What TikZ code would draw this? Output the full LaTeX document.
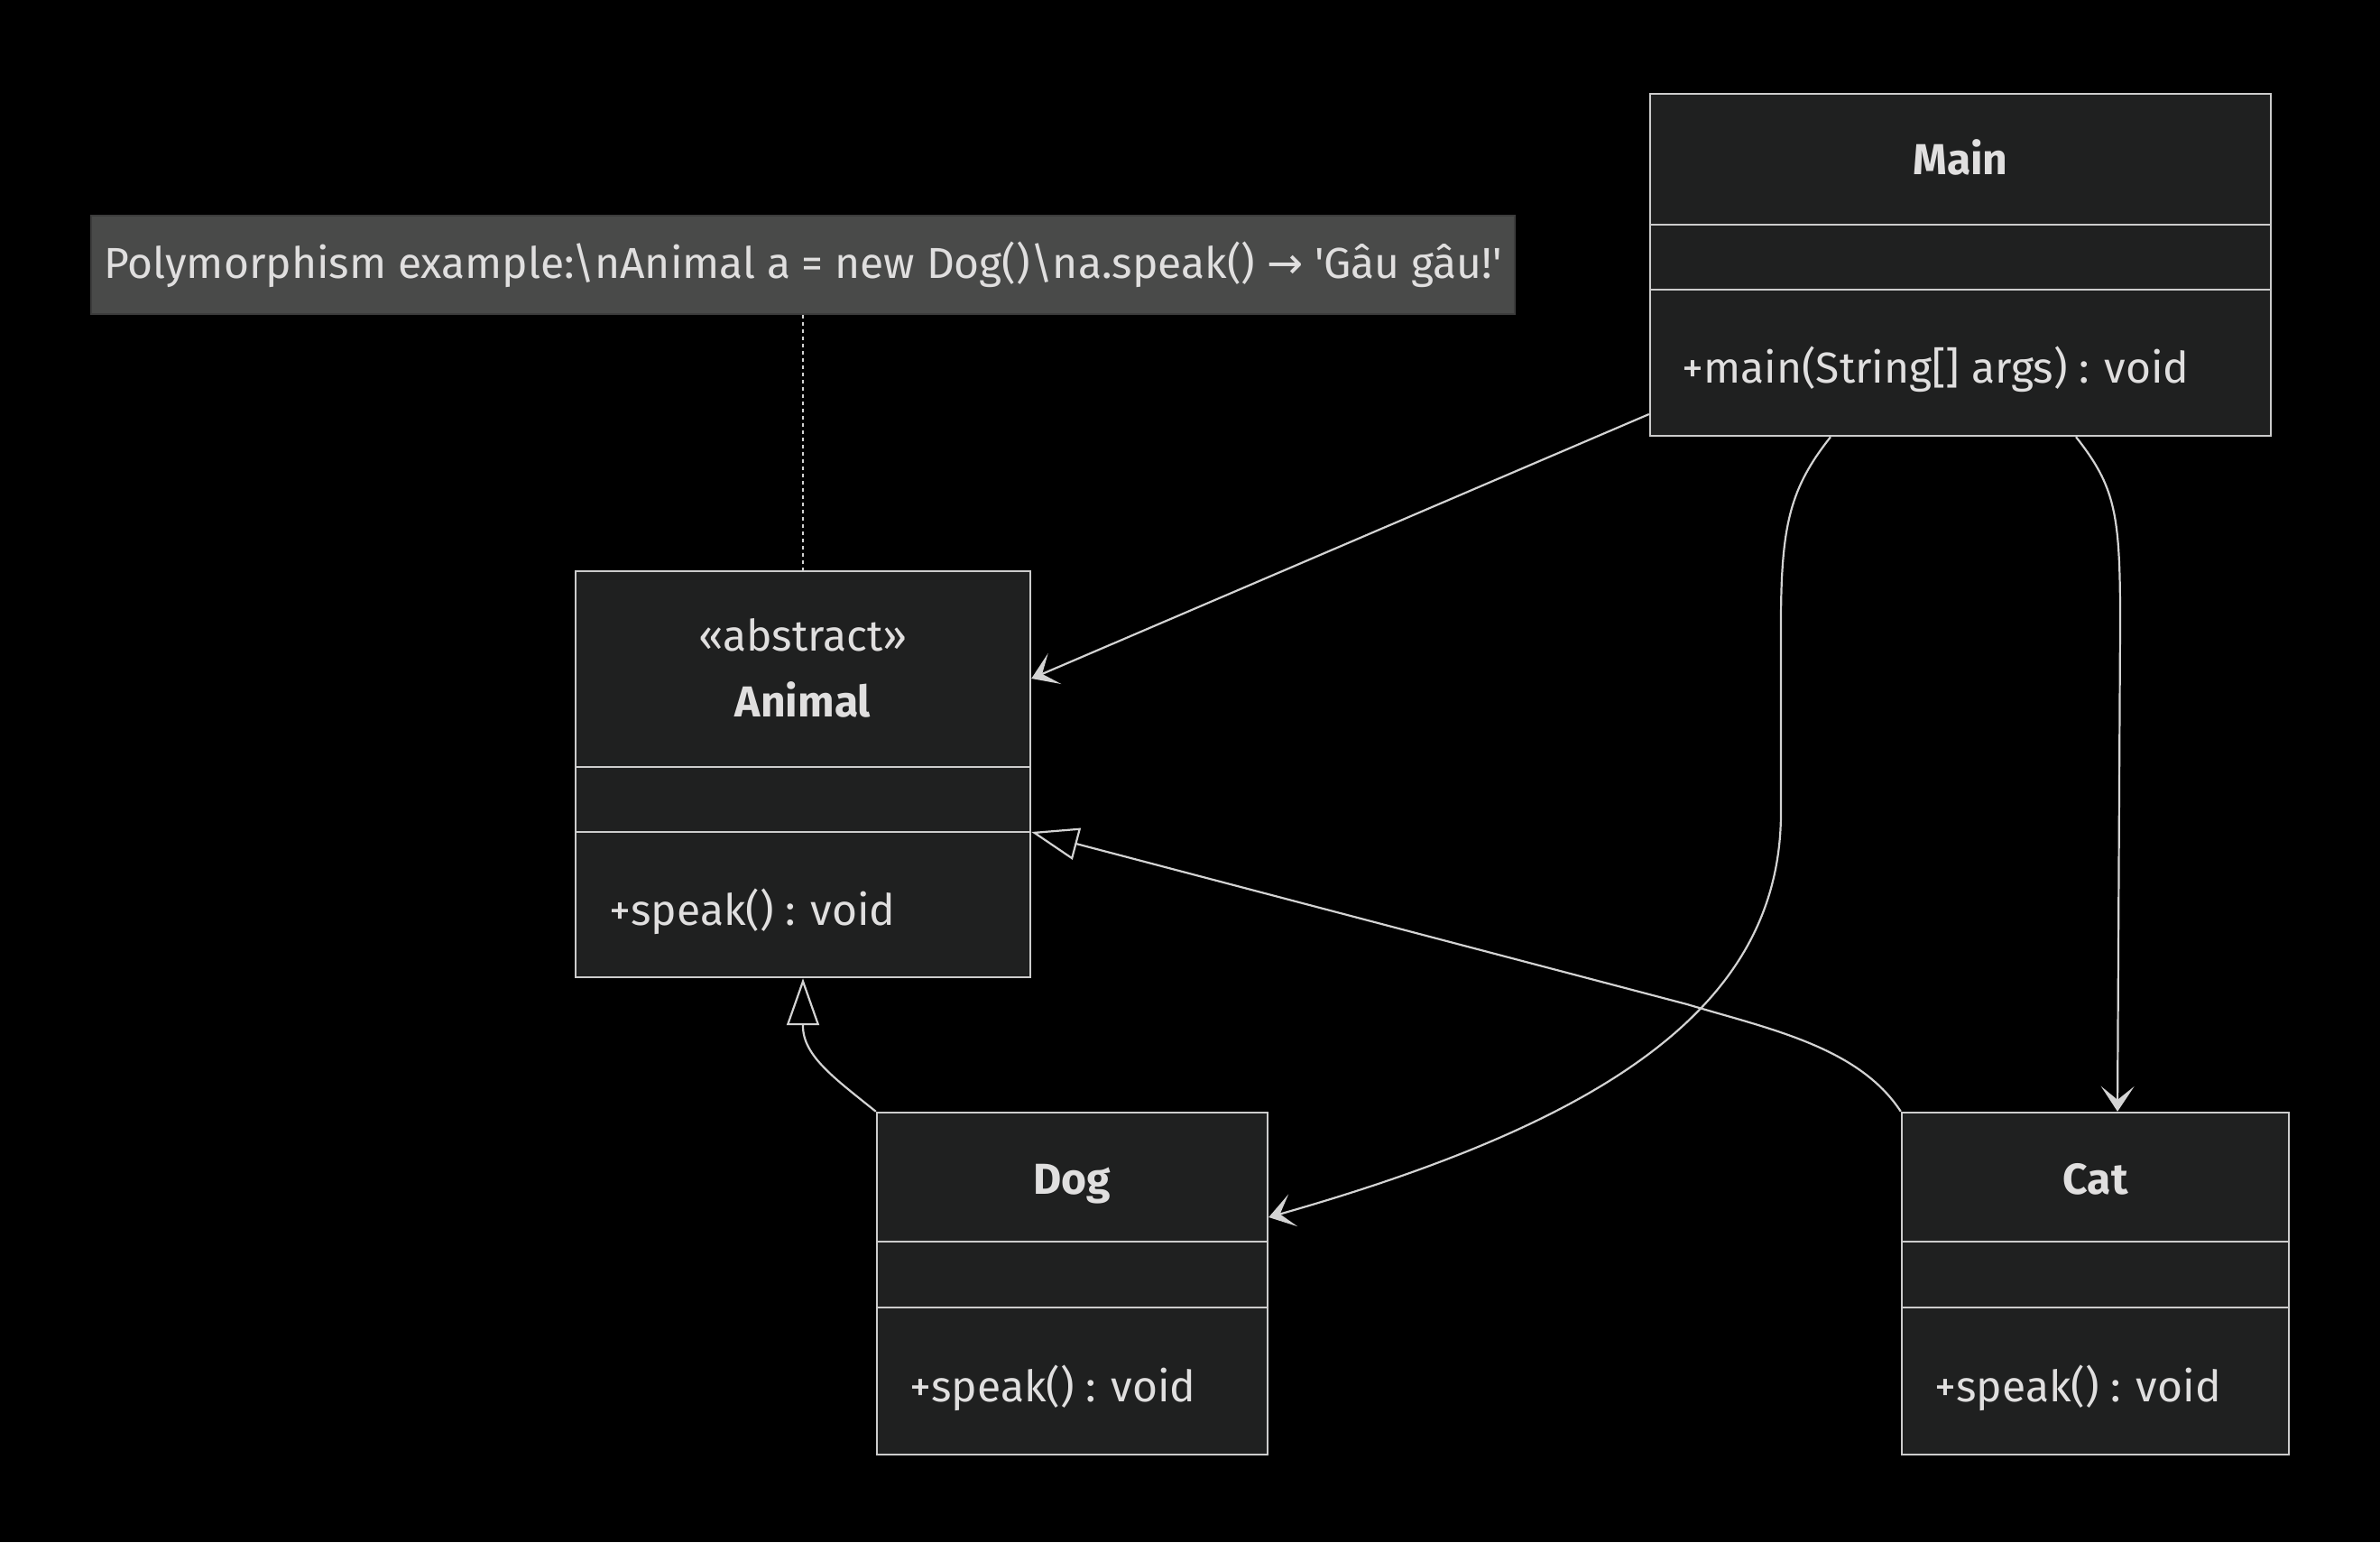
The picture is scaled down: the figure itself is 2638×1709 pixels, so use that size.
\documentclass[tikz,border=0pt]{standalone}
\usepackage{fontspec}
\newfontfamily\uifont{Fira Sans}
\newfontfamily\symfont{DejaVu Sans}
\usetikzlibrary{arrows.meta}

\definecolor{bg}{RGB}{0,0,0}
\definecolor{boxfill}{RGB}{31,32,32}
\definecolor{boxline}{RGB}{204,204,204}
\definecolor{ink}{RGB}{224,223,223}
\definecolor{notefill}{RGB}{73,74,73}
\definecolor{noteline}{RGB}{60,60,60}
\definecolor{edge}{RGB}{211,211,211}

\tikzset{
  every node/.style={font=\uifont\fontsize{24}{29}\selectfont, text=ink},
  classbox/.style={draw=boxline, fill=boxfill, line width=1.2pt, rectangle, inner sep=0pt},
  divider/.style={draw=boxline, line width=1.2pt},
  notebox/.style={draw=noteline, fill=notefill, line width=1.2pt, rectangle, inner sep=0pt},
  classname/.style={font=\uifont\bfseries\fontsize{24}{29}\selectfont, text height=17pt, text depth=6pt},
  member/.style={anchor=west, inner sep=0pt},
  dep/.style={draw=edge, line width=1.1pt, -{Stealth[length=14pt, width=18.5pt, inset=7.5pt]}},
  inh/.style={draw=edge, line width=1.1pt, -{Triangle[open, length=26pt, width=18pt]}},
  notelink/.style={draw=edge, line width=1pt, dash pattern=on 2pt off 2pt}
}

\begin{document}
\begin{tikzpicture}[x=0.5pt, y=-0.5pt]
  \fill[bg] (0,0) rectangle (2638,1709);
  \useasboundingbox (0,0) rectangle (2638,1709);

  % note
  \node[notebox, minimum width=789pt, minimum height=54.5pt] (note) at (890,293.5) {};
  \node (notetext) at (890,293.5) {Polymorphism example:\textbackslash nAnimal a = new Dog()\textbackslash na.speak() {\symfont\fontsize{24}{29}\selectfont →} 'Gâu gâu!'};

  % class boxes
  \node[classbox, minimum width=252pt, minimum height=225pt] (animal) at (890,858) {};
  \node[classbox, minimum width=344pt, minimum height=189.5pt] (main) at (2173,293.5) {};
  \node[classbox, minimum width=216.5pt, minimum height=189.5pt] (dog) at (1188.5,1422.5) {};
  \node[classbox, minimum width=214.5pt, minimum height=189.5pt] (cat) at (2322.5,1422.5) {};

  % compartments
  \draw[divider] (animal.west |- 0,850) -- (animal.east |- 0,850);
  \draw[divider] (animal.west |- 0,922) -- (animal.east |- 0,922);
  \draw[divider] (main.west |- 0,249) -- (main.east |- 0,249);
  \draw[divider] (main.west |- 0,321) -- (main.east |- 0,321);
  \draw[divider] (dog.west |- 0,1376) -- (dog.east |- 0,1376);
  \draw[divider] (dog.west |- 0,1449) -- (dog.east |- 0,1449);
  \draw[divider] (cat.west |- 0,1376) -- (cat.east |- 0,1376);
  \draw[divider] (cat.west |- 0,1449) -- (cat.east |- 0,1449);

  % class texts
  \node (animalstereo) at (890,704) {«abstract»};
  \node[classname] (animalname) at (890,783) {Animal};
  \node[member] (animalop) at (675,1010) {+speak() : void};

  \node[classname] (mainname) at (2173,182) {Main};
  \node[member] (mainop) at (1864,409) {+main(String[] args) : void};

  \node[classname] (dogname) at (1188.5,1312) {Dog};
  \node[member] (dogop) at (1008,1538) {+speak() : void};

  \node[classname] (catname) at (2322.5,1312) {Cat};
  \node[member] (catop) at (2144,1538) {+speak() : void};

  % relations
  \draw[notelink] (note.south) -- (animal.north);
  \draw[dep] (main.west |- 0,459) -- (animal.east |- 0,752);
  \draw[dep] (main.south -| 2029,0) .. controls (1985,540) and (1974,580) .. (1974,690)
     -- (1974,900) .. controls (1974,1110) and (1790,1240) .. (dog.east |- 0,1349);
  \draw[dep] (main.south -| 2301,0) .. controls (2345,540) and (2350,570) .. (2350,690)
     -- (cat.north -| 2347,0);
  \draw[inh] (dog.north west) .. controls (925,1195) and (890,1170) .. (890,1137) -- (animal.south);
  \draw[inh] (cat.north west) .. controls (2060,1160) and (1960,1140) .. (1870,1113) -- (animal.east |- 0,922);
\end{tikzpicture}
\end{document}
